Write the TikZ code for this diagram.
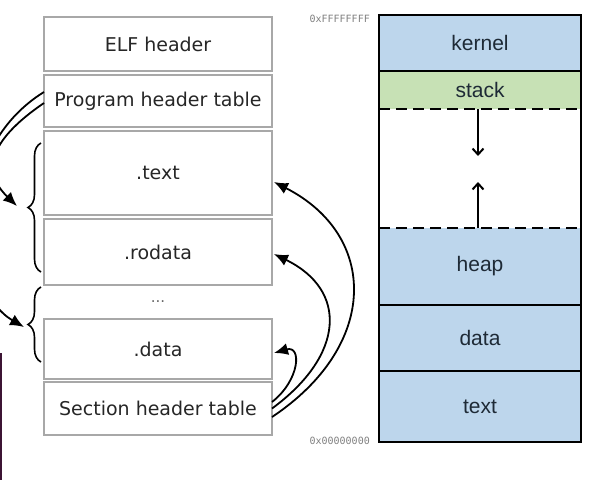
\documentclass[tikz,border=0pt]{standalone}
\usepackage{fontspec}
\setmainfont{DejaVu Sans}
\newfontfamily\memfont{Liberation Sans}
\newfontfamily\hexfont{DejaVu Sans Mono}
\usetikzlibrary{arrows.meta,decorations.pathreplacing}

\definecolor{secgray}{HTML}{A8A8A8}
\definecolor{memblue}{HTML}{BDD6EC}
\definecolor{memgreen}{HTML}{C7E1B5}
\definecolor{memtext}{HTML}{1E2A36}
\definecolor{barcol}{HTML}{3C1434}

\begin{document}
\begin{tikzpicture}[x=1pt, y=-1pt,
    sec/.style={draw=secgray, line width=1.3pt, anchor=north west, minimum width=228pt,
      inner sep=0pt, outer sep=0pt, text=black!85, font=\fontsize{19}{22}\selectfont},
    seg/.style={fill=#1, anchor=north west, minimum width=202pt, inner sep=0pt,
      outer sep=0pt, text=memtext, font=\memfont\fontsize{21}{24}\selectfont},
    ptr/.style={line width=1.8pt, -{Latex[length=14pt,width=12pt]}},
    growarrow/.style={line width=2pt, -{Straight Barb[length=6pt,width=11pt]}},
    addr/.style={text=black!50, font=\hexfont\fontsize{10}{12}\selectfont, inner sep=0pt},
    brc/.style={decorate, decoration={brace, amplitude=13pt}, line width=1.6pt}]
  \useasboundingbox (0,0) rectangle (596,480);
  \clip (0,0) rectangle (596,480);

  % ELF file
  \node[sec, minimum height=54pt] (elf) at (44,17) {ELF header};
  \node[sec, minimum height=52pt] (pht) at (44,75) {Program header table};
  \node[sec, minimum height=84pt] (text) at (44,131) {.text};
  \node[sec, minimum height=66pt] (rodata) at (44,219) {.rodata};
  \node[text=black!60, font=\fontsize{15}{16}\selectfont] (dots) at (158,302) {...};
  \node[sec, minimum height=60pt] (data) at (44,319) {.data};
  \node[sec, minimum height=53pt] (sht) at (44,382) {Section header table};

  % Segments
  \coordinate (b1top) at (41,143);
  \coordinate (b1bot) at (41,272);
  \coordinate (b2top) at (41,287);
  \coordinate (b2bot) at (41,362);
  \draw[brc] (b1bot) -- (b1top);
  \draw[brc] (b2bot) -- (b2top);
  \coordinate (in1) at (17,206);
  \coordinate (in2) at (24,327);
  \draw[ptr] ([yshift=-2pt]pht.west) .. controls (-25,150) and (-10,180) .. (in1);
  \draw[ptr] ([yshift=9pt]pht.west) .. controls (-50,150) and (-40,290) .. (in2);

  % Sections
  \draw[ptr] ([yshift=-8.5pt]sht.east) .. controls (380,345) and (378,235) .. ([xshift=2pt,yshift=-9pt]text.east);
  \draw[ptr] (sht.east) .. controls (345,355) and (348,290) .. ([xshift=2pt,yshift=-2pt]rodata.east);
  \draw[ptr] ([yshift=6.5pt]sht.east) .. controls (300,380) and (302,345) .. ([xshift=2pt,yshift=-4pt]data.east);

  % Memory
  \node[seg=memblue, minimum height=56pt] (kernel) at (379,15) {kernel};
  \node[seg=memgreen, minimum height=38pt] (stack) at (379,71) {stack};
  \node[seg=white, minimum height=119pt] (gap) at (379,109) {};
  \node[seg=memblue, minimum height=77pt] (heap) at (379,228) {heap};
  \node[seg=memblue, minimum height=66pt] (mdata) at (379,305) {data};
  \node[seg=memblue, minimum height=71pt] (mtext) at (379,371) {text};
  \draw[line width=2pt] (kernel.north west) rectangle (mtext.south east);
  \draw[line width=2pt] (kernel.south west) -- (kernel.south east);
  \draw[line width=2pt, dash pattern=on 11pt off 6pt] (stack.south west) -- (stack.south east);
  \draw[line width=2pt, dash pattern=on 11pt off 6pt] (heap.north west) -- (heap.north east);
  \draw[line width=2pt] (heap.south west) -- (heap.south east);
  \draw[line width=2pt] (mdata.south west) -- (mdata.south east);
  \coordinate (sdown) at ([xshift=-2pt,yshift=-47pt]stack.south);
  \coordinate (hup) at ([xshift=-2pt,yshift=46pt]heap.north);
  \draw[growarrow] ([xshift=-2pt]stack.south) -- (sdown);
  \draw[growarrow] ([xshift=-2pt]heap.north) -- (hup);
  \node[addr, anchor=base east] (hi) at ([xshift=-9pt,yshift=-7pt]kernel.north west) {0xFFFFFFFF};
  \node[addr, anchor=base east] (lo) at ([xshift=-9pt,yshift=-2pt]mtext.south west) {0x00000000};

  % window edge
  \draw[barcol, line width=2pt] (1,353) -- (1,480);
\end{tikzpicture}
\end{document}
